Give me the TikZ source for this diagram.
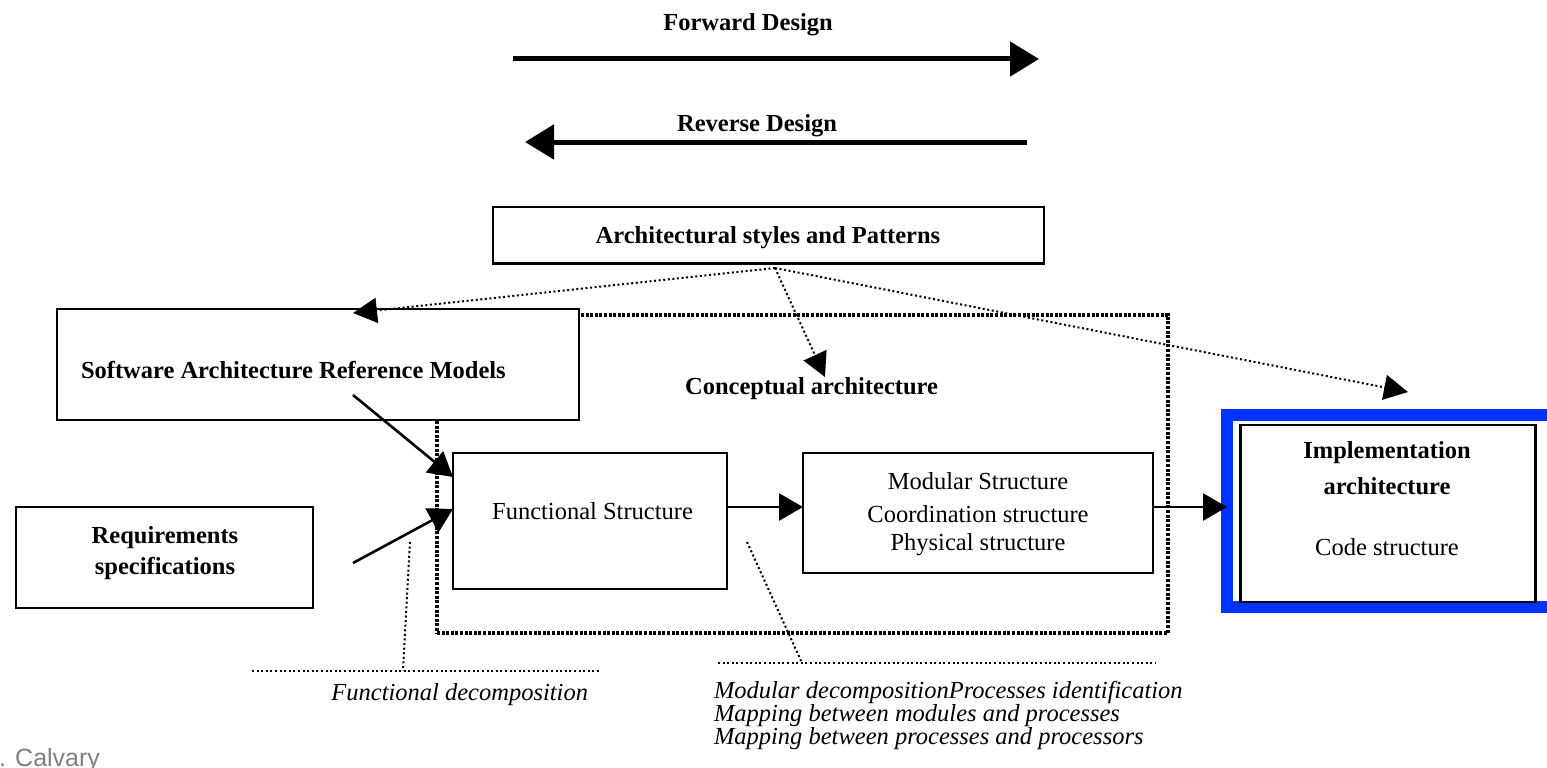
\documentclass[tikz,border=0pt]{standalone}
\usepackage{fontspec}
\setmainfont{Liberation Serif}
\newfontfamily\creditfont{Liberation Sans}
\usetikzlibrary{arrows.meta}
\definecolor{frameblue}{RGB}{0,51,255}
\definecolor{creditgray}{RGB}{128,128,128}

\begin{document}
\begin{tikzpicture}[x=1pt,y=-1pt,
  every node/.style={inner sep=0pt, outer sep=0pt},
  txt/.style={font=\fontsize{24.5}{29}\selectfont},
  btxt/.style={font=\fontsize{24.5}{29}\selectfont\bfseries},
  itxt/.style={font=\fontsize{24.5}{29}\selectfont\itshape},
  box/.style={draw=black, line width=2.2pt, fill=white},
  bigarrow/.style={line width=5pt, -{Triangle[length=29pt,width=34pt]}},
  flow/.style={line width=2.6pt, -{Triangle[length=24pt,width=27pt]}},
  hint/.style={line width=2pt, dash pattern=on 2pt off 2.6pt, -{Triangle[length=24pt,width=25pt]}},
  dotline/.style={line width=2pt, dash pattern=on 2pt off 2.6pt},
  region/.style={draw=black, line width=3.2pt, dash pattern=on 3pt off 1.6pt},
]
\useasboundingbox (0,0) rectangle (1547,768);
\clip (0,0) rectangle (1547,768);

% design direction arrows
\node[btxt] (fwdlabel) at (748,25) {Forward Design};
\coordinate (fwdS) at (513,59);
\coordinate (fwdE) at (1039,59);
\draw[bigarrow] (fwdS) -- (fwdE);

\node[btxt] (revlabel) at (757,126) {Reverse Design};
\coordinate (revS) at (1027,142);
\coordinate (revE) at (525,142);
\draw[bigarrow] (revS) -- (revE);

% styles and patterns
\node[box, minimum width=551pt, minimum height=56.5pt] (arch) at (768.5,235.25) {};
\node[btxt] (archtext) at (768,238) {Architectural styles and Patterns};

% conceptual architecture region
\node[region, minimum width=731pt, minimum height=318pt] (concept) at (802.5,474) {};
\node[btxt] (concepttext) at (811.5,389) {Conceptual architecture};

% reference models
\node[box, minimum width=522pt, minimum height=111pt] (sarm) at (318,364.5) {};
\node[btxt, anchor=west] (sarmtext) at (81,370) {Software Architecture Reference Models};

% requirements
\node[box, minimum width=297pt, minimum height=101pt] (req) at (164.5,557.5) {};
\node[btxt] (reqtext1) at (165,538) {Requirements};
\node[btxt] (reqtext2) at (165,568) {specifications};

% functional structure
\node[box, minimum width=274pt, minimum height=136pt] (func) at (590,521) {};
\node[txt] (functext) at (592.5,511) {Functional Structure};

% modular structure
\node[box, minimum width=350pt, minimum height=120pt] (mod) at (978,513) {};
\node[txt] (modtext1) at (978,481) {Modular Structure};
\node[txt] (modtext2) at (978,514) {Coordination structure};
\node[txt] (modtext3) at (978,545) {Physical structure};

% implementation architecture
\node[draw=frameblue, line width=12pt, minimum width=335pt, minimum height=192pt] (implframe) at (1394.5,511) {};
\node[box, minimum width=295pt, minimum height=176.7pt] (impl) at (1388,513.3) {};
\node[btxt] (impltext1) at (1387,453) {Implementation};
\node[btxt] (impltext2) at (1387,486) {architecture};
\node[txt] (impltext3) at (1387,547.5) {Code structure};

% flow arrows
\coordinate (sarmout) at (353,395);
\coordinate (reqout) at (353,563);
\draw[flow] (sarmout) -- ([yshift=44pt]func.west);
\draw[flow] (reqout) -- ([yshift=12pt]func.west);
\draw[flow] ([yshift=14pt]func.east) -- ([yshift=14pt]func.east -| mod.west);
\coordinate (implin) at ([yshift=4pt]implframe.west);
\draw[flow] (mod.east |- implin) -- (implin);

% influence of styles and patterns
\coordinate (apex) at ([xshift=6.5pt,yshift=-4.5pt]arch.south);
\coordinate (sarmtip) at (353,313);
\coordinate (concepttip) at (825,377);
\coordinate (impltip) at (1408,392);
\draw[hint] (apex) -- (sarmtip);
\draw[hint] (apex) -- (concepttip);
\draw[hint] (apex) -- (impltip);

% activity callouts
\coordinate (fdL) at (252,671);
\coordinate (fdR) at (600,671);
\coordinate (fdtop) at (410,542);
\coordinate (fdfoot) at (403,671);
\draw[dotline] (fdL) -- (fdR);
\draw[dotline] (fdtop) -- (fdfoot);
\node[itxt] (fdtext) at (459.7,695) {Functional decomposition};

\coordinate (mdL) at (718,663);
\coordinate (mdR) at (1156,663);
\coordinate (mdtop) at (747,542);
\coordinate (mdfoot) at (802,663);
\draw[dotline] (mdL) -- (mdR);
\draw[dotline] (mdtop) -- (mdfoot);
\node[itxt, anchor=west] (mdtext1) at (714,692) {Modular decompositionProcesses identification};
\node[itxt, anchor=west] (mdtext2) at (714,715.5) {Mapping between modules and processes};
\node[itxt, anchor=west] (mdtext3) at (714,739) {Mapping between processes and processors};

% credit
\node[anchor=base west, font=\creditfont\fontsize{25}{30}\selectfont, text=creditgray] (credit) at (-1,766) {. Calvary};
\end{tikzpicture}
\end{document}
